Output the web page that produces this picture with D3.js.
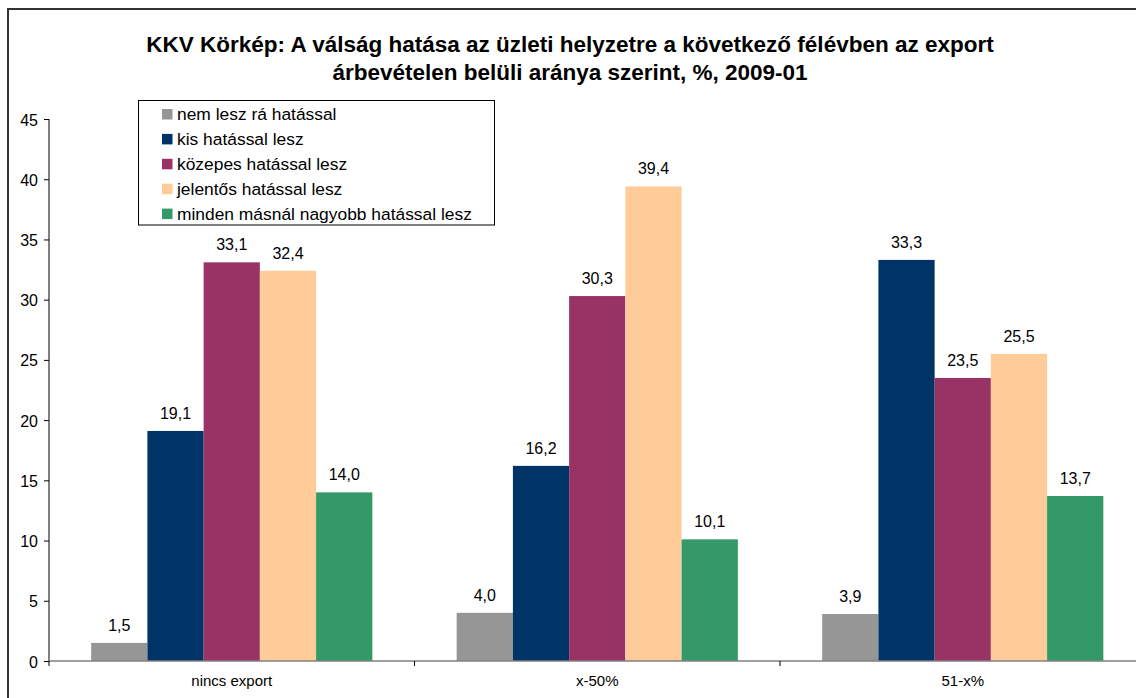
<!DOCTYPE html>
<html>
<head>
<meta charset="utf-8">
<script src="https://cdn.jsdelivr.net/npm/d3@7"></script>
<style>
  html, body { margin: 0; padding: 0; background: #fff; overflow: hidden; }
  svg { display: block; font-family: "Liberation Sans", Arial, sans-serif; }
</style>
</head>
<body>
<svg id="chart" width="1136" height="698"></svg>
<script>
const titleLines = ["KKV Körkép: A válság hatása az üzleti helyzetre a következő félévben az export",
                    "árbevételen belüli aránya szerint, %, 2009-01"];
const categories = ["nincs export", "x-50%", "51-x%"];
const seriesNames = ["nem lesz rá hatással", "kis hatással lesz", "közepes hatással lesz",
                     "jelentős hatással lesz", "minden másnál nagyobb hatással lesz"];
const nemLesz   = [1.5, 4.0, 3.9];
const kis       = [19.1, 16.2, 33.3];
const kozepes   = [33.1, 30.3, 23.5];
const jelentos  = [32.4, 39.4, 25.5];
const minden    = [14.0, 10.1, 13.7];
const yTicks = [0, 5, 10, 15, 20, 25, 30, 35, 40, 45];
const colors = ["#969696", "#003366", "#993366", "#FFCC99", "#339966"];

const seriesValues = [nemLesz, kis, kozepes, jelentos, minden];
const fmt = v => v.toFixed(1).replace(".", ",");

const svg = d3.select("#chart");

// outer chart border
svg.append("rect").attr("x", 8).attr("y", 9).attr("width", 1200).attr("height", 760)
  .attr("fill", "#fff").attr("stroke", "#333").attr("stroke-width", 2);

// title
svg.append("g").selectAll("text").data(titleLines).join("text")
  .attr("x", 570).attr("y", (d, i) => 52 + i * 28)
  .attr("text-anchor", "middle").attr("font-weight", "bold").attr("font-size", 22.5)
  .attr("fill", "#000").text(d => d);

const x0 = d3.scaleBand().domain(categories).range([49, 1145.5]).paddingInner(0).paddingOuter(0);
const x1 = d3.scaleBand().domain(d3.range(seriesNames.length))
  .range([0, x0.bandwidth()]).paddingInner(0).paddingOuter(0.75);
const y = d3.scaleLinear().domain([0, 45]).range([661, 119]);

// bars
const data = [];
categories.forEach((c, ci) => seriesValues.forEach((s, si) => data.push({c, si, v: s[ci]})));

const g = svg.append("g");
g.selectAll("rect.bar").data(data).join("rect").attr("class", "bar")
  .attr("x", d => x0(d.c) + x1(d.si))
  .attr("y", d => y(d.v))
  .attr("width", x1.bandwidth())
  .attr("height", d => y(0) - y(d.v))
  .attr("fill", d => colors[d.si]);

// data labels
g.selectAll("text.lbl").data(data).join("text").attr("class", "lbl")
  .attr("x", d => x0(d.c) + x1(d.si) + x1.bandwidth() / 2)
  .attr("y", d => y(d.v) - 12)
  .attr("text-anchor", "middle").attr("font-size", 16).attr("fill", "#000")
  .text(d => fmt(d.v));

// y axis
const yAxis = d3.axisLeft(y).tickValues(yTicks).tickSize(5).tickPadding(6).tickFormat(d3.format("d"));
const ya = svg.append("g").attr("transform", "translate(49,0)").call(yAxis);
ya.select(".domain").attr("stroke", "#000").attr("d", `M0,${y(45)}V${y(0)}`);
ya.selectAll(".tick line").attr("stroke", "#000");
ya.selectAll(".tick text").attr("font-size", 16).attr("font-family", "Liberation Sans, Arial, sans-serif")
  .attr("fill", "#000").attr("dy", "0.38em");

// x axis
const xa = svg.append("g").attr("transform", `translate(0,${y(0)})`);
xa.append("line").attr("x1", 49).attr("x2", 1145.5).attr("y1", 0).attr("y2", 0)
  .attr("stroke", "#808080").attr("stroke-width", 1.5);
xa.selectAll("line.tk").data(categories).join("line").attr("class", "tk")
  .attr("x1", d => x0(d)).attr("x2", d => x0(d)).attr("y1", 0).attr("y2", 5)
  .attr("stroke", "#000");
xa.selectAll("text").data(categories).join("text")
  .attr("x", d => x0(d) + x0.bandwidth() / 2).attr("y", 25)
  .attr("text-anchor", "middle").attr("font-size", 15).attr("fill", "#000").text(d => d);

// legend
const lg = svg.append("g");
lg.append("rect").attr("x", 138.5).attr("y", 100.5).attr("width", 356).attr("height", 124.5)
  .attr("fill", "#fff").attr("stroke", "#000").attr("stroke-width", 1);
const li = lg.selectAll("g.item").data(seriesNames).join("g").attr("class", "item")
  .attr("transform", (d, i) => `translate(0,${114 + i * 24.9})`);
li.append("rect").attr("x", 162).attr("y", -5).attr("width", 10.5).attr("height", 10.5)
  .attr("fill", (d, i) => colors[i]);
li.append("text").attr("x", 177).attr("y", 6).attr("font-size", 17.4).attr("fill", "#000").text(d => d);
</script>
</body>
</html>
